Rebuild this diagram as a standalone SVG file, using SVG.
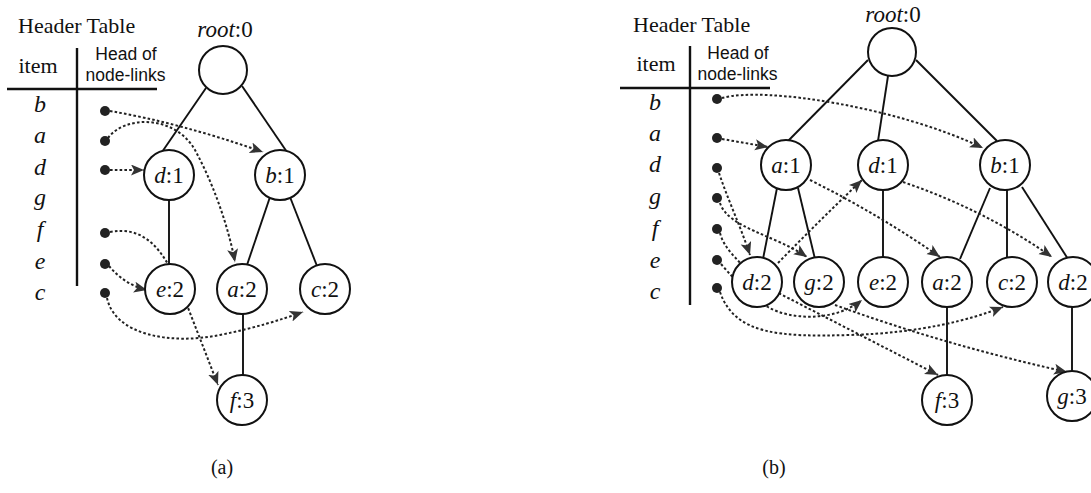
<svg xmlns="http://www.w3.org/2000/svg" width="1091" height="493" viewBox="0 0 1091 493">
  <style>
    .serif { font-family: "Liberation Serif", "Times New Roman", serif; fill: #111; }
    .sans { font-family: "Liberation Sans", Arial, sans-serif; fill: #111; font-size: 17.5px; text-anchor: middle; }
    .title { font-size: 22px; }
    .item { font-size: 24px; font-style: italic; text-anchor: middle; }
    .lbl { font-size: 23px; text-anchor: middle; }
    .cap { font-size: 20px; text-anchor: middle; }
    .rule { stroke: #111; stroke-width: 2.4; fill: none; }
    .edge { stroke: #111; stroke-width: 1.9; fill: none; }
    .link { stroke: #222; stroke-width: 2; stroke-dasharray: 2.6 2.2; fill: none; }
    .arr { marker-end: url(#tip); }
    .node { fill: #fff; stroke: #111; stroke-width: 2; }
    .dot { fill: #222; }
  </style>
  <defs>
    <marker id="tip" markerUnits="userSpaceOnUse" markerWidth="14" markerHeight="12" refX="13" refY="5.5" orient="auto">
      <path d="M0,0 L13,5.5 L0,11 L3,5.5 Z" fill="#333"/>
    </marker>
  </defs>

  <!-- (a) header table -->
  <g id="header-a">
    <text class="serif title" x="18" y="33">Header Table</text>
    <text class="serif title" x="38" y="73" text-anchor="middle">item</text>
    <text class="sans" x="126" y="60">Head of</text>
    <text class="sans" x="125.5" y="81">node-links</text>
    <line class="rule" x1="77" y1="48" x2="77" y2="286"/>
    <line class="rule" x1="7" y1="89" x2="157" y2="89"/>
    <text class="serif item" x="40" y="112">b</text>
    <text class="serif item" x="40" y="143">a</text>
    <text class="serif item" x="40" y="175">d</text>
    <text class="serif item" x="40" y="205">g</text>
    <text class="serif item" x="40" y="237">f</text>
    <text class="serif item" x="40" y="269">e</text>
    <text class="serif item" x="40" y="300">c</text>
    <circle class="dot" cx="105" cy="111" r="5"/>
    <circle class="dot" cx="105" cy="141" r="5"/>
    <circle class="dot" cx="105" cy="170" r="5"/>
    <circle class="dot" cx="105" cy="233" r="5"/>
    <circle class="dot" cx="105" cy="264" r="5"/>
    <circle class="dot" cx="105" cy="293" r="5"/>
  </g>

  <!-- (b) header table -->
  <g id="header-b">
    <text class="serif title" x="633" y="32">Header Table</text>
    <text class="serif title" x="656" y="71" text-anchor="middle">item</text>
    <text class="sans" x="738" y="59">Head of</text>
    <text class="sans" x="737.5" y="80">node-links</text>
    <line class="rule" x1="690" y1="46" x2="690" y2="305"/>
    <line class="rule" x1="620" y1="88" x2="770" y2="88"/>
    <text class="serif item" x="655" y="110">b</text>
    <text class="serif item" x="655" y="141">a</text>
    <text class="serif item" x="655" y="172">d</text>
    <text class="serif item" x="655" y="204">g</text>
    <text class="serif item" x="655" y="236">f</text>
    <text class="serif item" x="655" y="268">e</text>
    <text class="serif item" x="655" y="299">c</text>
    <circle class="dot" cx="717" cy="99" r="5"/>
    <circle class="dot" cx="717" cy="138" r="5"/>
    <circle class="dot" cx="717" cy="168" r="5"/>
    <circle class="dot" cx="717" cy="198" r="5"/>
    <circle class="dot" cx="717" cy="229" r="5"/>
    <circle class="dot" cx="717" cy="260" r="5"/>
    <circle class="dot" cx="717" cy="288" r="5"/>
  </g>

  <g id="connectors">
    <!-- tree (a) edges -->
    <line class="edge" x1="206" y1="88" x2="162" y2="152"/>
    <line class="edge" x1="242" y1="86" x2="287" y2="152"/>
    <line class="edge" x1="169" y1="199" x2="169" y2="265"/>
    <line class="edge" x1="270" y1="197" x2="247" y2="265"/>
    <line class="edge" x1="290" y1="197" x2="317" y2="266"/>
    <line class="edge" x1="243" y1="312" x2="243" y2="377"/>
    <!-- tree (a) node-links -->
    <path class="link arr" d="M110,111 Q180,123 263,152"/>
    <path class="link arr" d="M108,138 C125,115 175,115 195,150 C213,183 228,225 235,262"/>
    <path class="link arr" d="M110,170 L144,170"/>
    <path class="link arr" d="M110,232 C140,226 158,245 170,268 L185,300 L218,385"/>
    <path class="link arr" d="M109,266 Q125,285 147,290"/>
    <path class="link arr" d="M107,298 C115,335 170,345 220,335 C255,328 280,320 303,312"/>

    <!-- tree (b) edges -->
    <line class="edge" x1="868" y1="60" x2="788" y2="141"/>
    <line class="edge" x1="888" y1="76" x2="878" y2="141"/>
    <line class="edge" x1="916" y1="60" x2="997" y2="141"/>
    <line class="edge" x1="777" y1="188" x2="763" y2="259"/>
    <line class="edge" x1="798" y1="188" x2="815" y2="259"/>
    <line class="edge" x1="883" y1="189" x2="883" y2="258"/>
    <line class="edge" x1="990" y1="188" x2="960" y2="259"/>
    <line class="edge" x1="1007" y1="189" x2="1007" y2="258"/>
    <line class="edge" x1="1022" y1="187" x2="1068" y2="259"/>
    <line class="edge" x1="947" y1="306" x2="947" y2="376"/>
    <line class="edge" x1="1072" y1="306" x2="1072" y2="372"/>
    <!-- tree (b) node-links -->
    <path class="link arr" d="M722,98 C765,86 900,108 983,148"/>
    <path class="link arr" d="M722,139 L768,147"/>
    <path class="link arr" d="M810,180 Q880,215 940,257"/>
    <path class="link arr" d="M719,173 C728,200 740,225 750,255"/>
    <path class="link arr" d="M778,263 Q820,220 862,180"/>
    <path class="link arr" d="M903,182 Q985,210 1052,257"/>
    <path class="link arr" d="M720,203 C728,228 775,235 807,257"/>
    <path class="link arr" d="M835,305 Q945,345 1067,372"/>
    <path class="link arr" d="M720,233 C725,252 742,262 757,282 L938,375"/>
    <path class="link arr" d="M721,264 Q745,292 768,307 C790,320 835,322 862,300"/>
    <path class="link arr" d="M720,292 C735,335 780,337 850,335 C920,333 970,320 1003,307"/>
  </g>

  <!-- tree (a) nodes -->
  <g id="a-root">
    <circle class="node" cx="223" cy="70" r="24"/>
    <text class="serif lbl" x="225" y="37" font-size="21"><tspan font-style="italic">root</tspan>:0</text>
  </g>
  <g id="a-d1"><circle class="node" cx="169" cy="175" r="25"/><text class="serif lbl" x="169" y="183"><tspan font-style="italic">d</tspan>:1</text></g>
  <g id="a-b1"><circle class="node" cx="280" cy="175" r="25"/><text class="serif lbl" x="280" y="183"><tspan font-style="italic">b</tspan>:1</text></g>
  <g id="a-e2"><circle class="node" cx="170" cy="289" r="25"/><text class="serif lbl" x="170" y="297"><tspan font-style="italic">e</tspan>:2</text></g>
  <g id="a-a2"><circle class="node" cx="242" cy="289" r="25"/><text class="serif lbl" x="242" y="297"><tspan font-style="italic">a</tspan>:2</text></g>
  <g id="a-c2"><circle class="node" cx="325" cy="289" r="25"/><text class="serif lbl" x="325" y="297"><tspan font-style="italic">c</tspan>:2</text></g>
  <g id="a-f3"><circle class="node" cx="242" cy="400" r="25"/><text class="serif lbl" x="242" y="408"><tspan font-style="italic">f</tspan>:3</text></g>

  <!-- tree (b) nodes -->
  <g id="b-root">
    <circle class="node" cx="892" cy="52" r="24"/>
    <text class="serif lbl" x="893" y="22" font-size="21"><tspan font-style="italic">root</tspan>:0</text>
  </g>
  <g id="b-a1"><circle class="node" cx="786" cy="165" r="25"/><text class="serif lbl" x="786" y="173"><tspan font-style="italic">a</tspan>:1</text></g>
  <g id="b-d1"><circle class="node" cx="883" cy="165" r="25"/><text class="serif lbl" x="883" y="173"><tspan font-style="italic">d</tspan>:1</text></g>
  <g id="b-b1"><circle class="node" cx="1005" cy="165" r="25"/><text class="serif lbl" x="1005" y="173"><tspan font-style="italic">b</tspan>:1</text></g>
  <g id="b-d2"><circle class="node" cx="757" cy="282" r="25"/><text class="serif lbl" x="757" y="290"><tspan font-style="italic">d</tspan>:2</text></g>
  <g id="b-g2"><circle class="node" cx="819" cy="282" r="25"/><text class="serif lbl" x="819" y="290"><tspan font-style="italic">g</tspan>:2</text></g>
  <g id="b-e2"><circle class="node" cx="883" cy="282" r="25"/><text class="serif lbl" x="883" y="290"><tspan font-style="italic">e</tspan>:2</text></g>
  <g id="b-a2"><circle class="node" cx="947" cy="282" r="25"/><text class="serif lbl" x="947" y="290"><tspan font-style="italic">a</tspan>:2</text></g>
  <g id="b-c2"><circle class="node" cx="1012" cy="282" r="25"/><text class="serif lbl" x="1012" y="290"><tspan font-style="italic">c</tspan>:2</text></g>
  <g id="b-d2r"><circle class="node" cx="1073" cy="282" r="25"/><text class="serif lbl" x="1073" y="290"><tspan font-style="italic">d</tspan>:2</text></g>
  <g id="b-f3"><circle class="node" cx="947" cy="400" r="25"/><text class="serif lbl" x="947" y="408"><tspan font-style="italic">f</tspan>:3</text></g>
  <g id="b-g3"><circle class="node" cx="1072" cy="396" r="25"/><text class="serif lbl" x="1072" y="404"><tspan font-style="italic">g</tspan>:3</text></g>

  <!-- captions -->
  <text class="serif cap" x="222" y="474">(a)</text>
  <text class="serif cap" x="774" y="474">(b)</text>
</svg>
